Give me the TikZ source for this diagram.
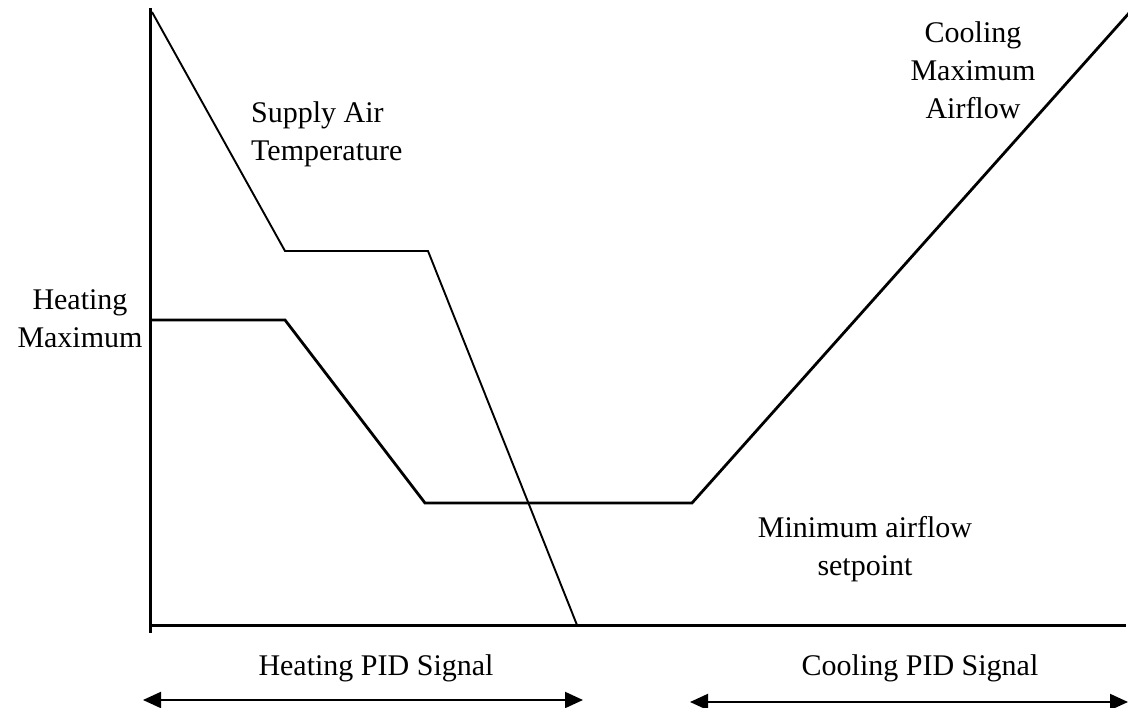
\documentclass[tikz,border=0pt]{standalone}
\usepackage{fontspec}
\setmainfont{Liberation Serif}
\usetikzlibrary{arrows.meta}
\begin{document}
\begin{tikzpicture}[x=1pt,y=-1pt,
  lbl/.style={inner sep=0pt, align=center, font=\fontsize{30}{38}\selectfont},
  lbll/.style={lbl, align=left, anchor=west},
  axisline/.style={line width=3pt},
  flowline/.style={line width=2.8pt, line join=miter},
  templine/.style={line width=1.9pt, line join=miter},
  span/.style={line width=2pt, {Triangle[length=18pt,width=16pt]}-{Triangle[length=18pt,width=16pt]}}]
\useasboundingbox (0,0) rectangle (1128,708);
% axes
\coordinate (ytop) at (150,8);
\coordinate (ybot) at (150,633);
\coordinate (xl) at (150,625);
\coordinate (xr) at (1126,625);
\draw[axisline] (ytop) -- (ybot);
\draw[axisline] (xl) -- (xr);
% supply air temperature
\coordinate (s0) at (152,12);
\coordinate (s1) at (285,251);
\coordinate (s2) at (428,251);
\coordinate (s3) at (577,625);
\draw[templine] (s0) -- (s1) -- (s2) -- (s3);
% airflow
\coordinate (a0) at (151,320);
\coordinate (a1) at (285,320);
\coordinate (a2) at (425,503);
\coordinate (a3) at (692,503);
\coordinate (a4) at (1130,12);
\draw[flowline] (a0) -- (a1) -- (a2) -- (a3) -- (a4);
% labels
\node[lbll] (sat) at (251,134) {Supply Air\\Temperature};
\node[lbl] (hm) at (80,319) {Heating\\Maximum};
\node[lbl] (cm) at (973,70) {Cooling\\Maximum\\Airflow};
\node[lbl] (mas) at (865,549) {Minimum airflow\\setpoint};
\node[lbl] (hpid) at (376,668) {Heating PID Signal};
\node[lbl] (cpid) at (920,668) {Cooling PID Signal};
% signal spans
\coordinate (h0) at (143,700);
\coordinate (h1) at (583,700);
\coordinate (c0) at (690,702);
\coordinate (c1) at (1128,702);
\draw[span] (h0) -- (h1);
\draw[span] (c0) -- (c1);
\end{tikzpicture}
\end{document}
